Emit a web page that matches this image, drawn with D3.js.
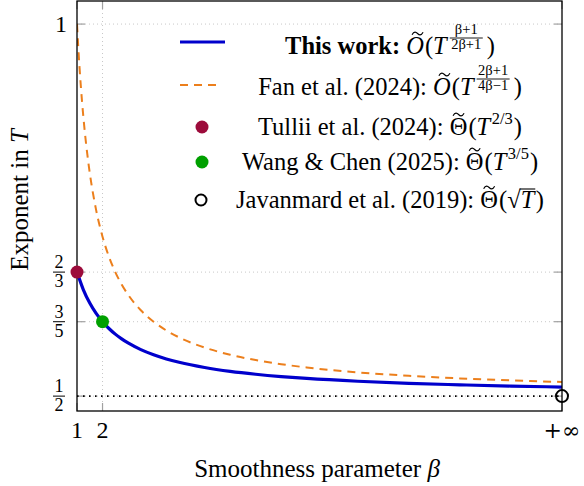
<!DOCTYPE html>
<html>
<head>
<meta charset="utf-8">
<script src="https://cdn.jsdelivr.net/npm/d3@7"></script>
<style>
  body { margin: 0; background: #fff; }
  text { font-family: "Liberation Serif", "Times New Roman", serif; fill: #000; white-space: pre; }
</style>
</head>
<body>
<svg id="chart" width="584" height="486"></svg>
<script>
// smoothness parameter beta (x) and the exponent of T (y)
var betaThis = [1, 1.25, 1.5, 1.75, 2, 2.25, 2.5, 2.75, 3, 3.5, 4, 4.5, 5, 6, 7, 8, 9, 10, 12, 14, 16, 18, 20];
var expThis  = [0.6667, 0.6429, 0.6250, 0.6111, 0.6000, 0.5909, 0.5833, 0.5769, 0.5714, 0.5625, 0.5556, 0.5500, 0.5455,
                0.5385, 0.5333, 0.5294, 0.5263, 0.5238, 0.5200, 0.5172, 0.5152, 0.5135, 0.5122];

var betaFan = [1, 1.05, 1.1, 1.2, 1.3, 1.4, 1.5, 1.75, 2, 2.25, 2.5, 2.75, 3, 3.5, 4, 4.5, 5, 6, 7, 8, 9, 10, 12, 14, 16, 18, 20];
var expFan  = [1.0000, 0.9688, 0.9412, 0.8947, 0.8571, 0.8261, 0.8000, 0.7500, 0.7143, 0.6875, 0.6667, 0.6500, 0.6364,
               0.6154, 0.6000, 0.5882, 0.5789, 0.5652, 0.5556, 0.5484, 0.5429, 0.5385, 0.5319, 0.5273, 0.5238, 0.5211, 0.5190];

// single points: [beta, exponent]
var tulliiPt = [1, 2/3];
var wangPt = [2, 3/5];
var javanPt = [20, 1/2];   // beta = +inf drawn at the right edge

var yTickVals = [1/2, 3/5, 2/3, 1];
var yTickFracs = [['1', '2'], ['3', '5'], ['2', '3'], null];
var xTickVals = [1, 2, 20];
var xTickLabels = ['1', '2', '+\u221E'];

var svg = d3.select('#chart');

var plotL = 77, plotR = 562, plotT = 1, plotB = 411;

var xScale = d3.scaleLinear().domain([1, 20]).range([plotL, plotR]);
var yScale = d3.scaleLinear().domain([0.48, 1.031]).range([plotB, plotT]);

svg.append('defs').append('clipPath').attr('id', 'clip')
  .append('rect').attr('x', plotL).attr('y', plotT).attr('width', plotR - plotL).attr('height', plotB - plotT);

// grid
var grid = svg.append('g');
grid.selectAll('line.hg').data(yTickVals).enter().append('line')
  .attr('x1', plotL).attr('x2', plotR)
  .attr('y1', d => yScale(d)).attr('y2', d => yScale(d))
  .attr('stroke', '#c8c8c8').attr('stroke-width', 1).attr('stroke-dasharray', '1,3');
grid.append('line')
  .attr('x1', xScale(2)).attr('x2', xScale(2)).attr('y1', plotT).attr('y2', plotB)
  .attr('stroke', '#c8c8c8').attr('stroke-width', 1).attr('stroke-dasharray', '1,3');

// ticks inside, gray, on every side
var tickLen = 8;
var ticks = svg.append('g').attr('stroke', '#a0a0a0').attr('stroke-width', 1.2);
yTickVals.forEach(function(v) {
  ticks.append('line').attr('x1', plotL).attr('x2', plotL + tickLen).attr('y1', yScale(v)).attr('y2', yScale(v));
  ticks.append('line').attr('x1', plotR - tickLen).attr('x2', plotR).attr('y1', yScale(v)).attr('y2', yScale(v));
});
xTickVals.forEach(function(v) {
  ticks.append('line').attr('x1', xScale(v)).attr('x2', xScale(v)).attr('y1', plotB).attr('y2', plotB - tickLen);
  ticks.append('line').attr('x1', xScale(v)).attr('x2', xScale(v)).attr('y1', plotT).attr('y2', plotT + tickLen);
});

// the sqrt(T) reference line
svg.append('line')
  .attr('x1', plotL).attr('x2', plotR)
  .attr('y1', yScale(0.5)).attr('y2', yScale(0.5))
  .attr('stroke', '#000').attr('stroke-width', 1.8).attr('stroke-dasharray', '1.6,4.4');

var plot = svg.append('g').attr('clip-path', 'url(#clip)');

var line = d3.line().x(d => xScale(d[0])).y(d => yScale(d[1])).curve(d3.curveMonotoneX);

plot.append('path')
  .datum(d3.zip(betaFan, expFan))
  .attr('d', line)
  .attr('fill', 'none').attr('stroke', '#ec7f1c').attr('stroke-width', 2)
  .attr('stroke-dasharray', '8,6');

plot.append('path')
  .datum(d3.zip(betaThis, expThis))
  .attr('d', line)
  .attr('fill', 'none').attr('stroke', '#0000cc').attr('stroke-width', 3.2);

// frame
svg.append('rect')
  .attr('x', plotL).attr('y', plotT).attr('width', plotR - plotL).attr('height', plotB - plotT)
  .attr('fill', 'none').attr('stroke', '#000').attr('stroke-width', 1.3);

// points
svg.append('circle').attr('cx', xScale(tulliiPt[0])).attr('cy', yScale(tulliiPt[1])).attr('r', 6.5).attr('fill', '#9c0b3b');
svg.append('circle').attr('cx', xScale(wangPt[0])).attr('cy', yScale(wangPt[1])).attr('r', 6.5).attr('fill', '#00a000');
svg.append('circle').attr('cx', xScale(javanPt[0])).attr('cy', yScale(javanPt[1])).attr('r', 6).attr('fill', 'none')
  .attr('stroke', '#000').attr('stroke-width', 2);

// y tick labels
yTickVals.forEach(function(v, i) {
  var yy = yScale(v);
  var fr = yTickFracs[i];
  if (fr) {
    svg.append('text').attr('x', 59).attr('y', yy - 4).attr('text-anchor', 'middle').style('font-size', '18px').text(fr[0]);
    svg.append('text').attr('x', 59).attr('y', yy + 15).attr('text-anchor', 'middle').style('font-size', '18px').text(fr[1]);
    svg.append('line').attr('x1', 53).attr('x2', 65).attr('y1', yy).attr('y2', yy).attr('stroke', '#000').attr('stroke-width', 1);
  } else {
    svg.append('text').attr('x', 61).attr('y', yy + 8).attr('text-anchor', 'middle').style('font-size', '24px').text('1');
  }
});

// x tick labels
xTickVals.forEach(function(v, i) {
  svg.append('text').attr('x', xScale(v)).attr('y', 438).attr('text-anchor', 'middle')
    .style('font-size', '24px')
    .style('font-family', i === 2 ? '"DejaVu Serif", serif' : null)
    .style('font-size', i === 2 ? '22px' : '24px')
    .text(xTickLabels[i]);
});

// axis titles
var xt = svg.append('text').attr('x', 317).attr('y', 477).attr('text-anchor', 'middle').style('font-size', '25px');
xt.append('tspan').text('Smoothness parameter ');
xt.append('tspan').style('font-style', 'italic').text('\u03B2');

var yt = svg.append('text').attr('transform', 'translate(28,200) rotate(-90)').attr('text-anchor', 'middle').style('font-size', '25px');
yt.append('tspan').text('Exponent in ');
yt.append('tspan').style('font-style', 'italic').text('T');

// legend -- each label is built from pieces and centered
var legendCx = 390;
var fs = 24.5;

function piece(g, x, s, opts) {
  var t = g.append('text').attr('x', x).attr('y', opts.dy || 0)
    .style('font-size', (opts.size || fs) + 'px')
    .style('font-style', opts.italic ? 'italic' : 'normal')
    .style('font-weight', opts.bold ? 'bold' : 'normal')
    .text(s);
  return t.node().getComputedTextLength();
}

function measure(s, size) {
  var t = svg.append('text').style('font-size', size + 'px').text(s);
  var w = t.node().getComputedTextLength();
  t.remove();
  return w;
}

function tildeMark(g, cx, ty) {
  g.append('path')
    .attr('d', 'M' + (cx - 5.5) + ',' + (ty + 1.2) +
      ' C' + (cx - 3.5) + ',' + (ty - 2.5) + ' ' + (cx - 1.5) + ',' + (ty - 1.5) + ' ' + cx + ',' + ty +
      ' C' + (cx + 1.5) + ',' + (ty + 1.5) + ' ' + (cx + 3.5) + ',' + (ty + 2.5) + ' ' + (cx + 5.5) + ',' + (ty - 1.2))
    .attr('fill', 'none').attr('stroke', '#000').attr('stroke-width', 1.2);
}

function mathLabel(pieces, baseline) {
  var g = svg.append('g');
  var x = 0;
  pieces.forEach(function(p) {
    if (p.t === 'txt') {
      x += piece(g, x, p.s, p);
    } else if (p.t === 'tilde') {
      var w = piece(g, x, p.s, {italic: p.italic});
      tildeMark(g, x + w / 2 + (p.italic ? 2.5 : 0), -20.5);
      x += w + 1;
    } else if (p.t === 'sup') {
      x += 1.5;
      x += piece(g, x, p.s, {size: 16.5, dy: -11});
      x += 1;
    } else if (p.t === 'frac') {
      var fsz = 14.5;
      var wn = measure(p.num, fsz);
      var wd = measure(p.den, fsz);
      var w2 = Math.max(wn, wd) + 3;
      x += 3;
      piece(g, x + (w2 - wn) / 2, p.num, {size: fsz, dy: -20});
      piece(g, x + (w2 - wd) / 2, p.den, {size: fsz, dy: -5});
      g.append('line').attr('x1', x).attr('x2', x + w2).attr('y1', -16).attr('y2', -16)
        .attr('stroke', '#000').attr('stroke-width', 0.9);
      x += w2 + 4;
    } else if (p.t === 'sqrt') {
      var ws = piece(g, x, '\u221A', {});
      var wt = piece(g, x + ws, p.s, {italic: true});
      g.append('line').attr('x1', x + ws - 1).attr('x2', x + ws + wt + 1).attr('y1', -19).attr('y2', -19)
        .attr('stroke', '#000').attr('stroke-width', 1.1);
      x += ws + wt + 1.5;
    }
  });
  g.attr('transform', 'translate(' + (legendCx - x / 2) + ',' + baseline + ')');
}

var legendRows = [
  {y: 54, pieces: [{t: 'txt', s: 'This work: ', bold: true}, {t: 'tilde', s: 'O', italic: true}, {t: 'txt', s: '('},
    {t: 'txt', s: 'T', italic: true}, {t: 'frac', num: '\u03B2+1', den: '2\u03B2+1'}, {t: 'txt', s: ')'}]},
  {y: 95, pieces: [{t: 'txt', s: 'Fan et al. (2024): '}, {t: 'tilde', s: 'O', italic: true}, {t: 'txt', s: '('},
    {t: 'txt', s: 'T', italic: true}, {t: 'frac', num: '2\u03B2+1', den: '4\u03B2\u22121'}, {t: 'txt', s: ')'}]},
  {y: 135, pieces: [{t: 'txt', s: 'Tullii et al. (2024): '}, {t: 'tilde', s: '\u0398'}, {t: 'txt', s: '('},
    {t: 'txt', s: 'T', italic: true}, {t: 'sup', s: '2/3'}, {t: 'txt', s: ')'}]},
  {y: 170, pieces: [{t: 'txt', s: 'Wang & Chen (2025): '}, {t: 'tilde', s: '\u0398'}, {t: 'txt', s: '('},
    {t: 'txt', s: 'T', italic: true}, {t: 'sup', s: '3/5'}, {t: 'txt', s: ')'}]},
  {y: 208, pieces: [{t: 'txt', s: 'Javanmard et al. (2019): '}, {t: 'tilde', s: '\u0398'}, {t: 'txt', s: '('},
    {t: 'sqrt', s: 'T'}, {t: 'txt', s: ')'}]}
];
legendRows.forEach(function(r) { mathLabel(r.pieces, r.y); });

// legend symbols
svg.append('line').attr('x1', 180).attr('x2', 225).attr('y1', 42).attr('y2', 42).attr('stroke', '#0000cc').attr('stroke-width', 3.2);
svg.append('line').attr('x1', 180).attr('x2', 221).attr('y1', 85).attr('y2', 85).attr('stroke', '#ec7f1c').attr('stroke-width', 2).attr('stroke-dasharray', '8,6');
svg.append('circle').attr('cx', 202).attr('cy', 127).attr('r', 6.5).attr('fill', '#9c0b3b');
svg.append('circle').attr('cx', 202).attr('cy', 162).attr('r', 6.5).attr('fill', '#00a000');
svg.append('circle').attr('cx', 201).attr('cy', 200).attr('r', 5.5).attr('fill', 'none').attr('stroke', '#000').attr('stroke-width', 2);
</script>
</body>
</html>
